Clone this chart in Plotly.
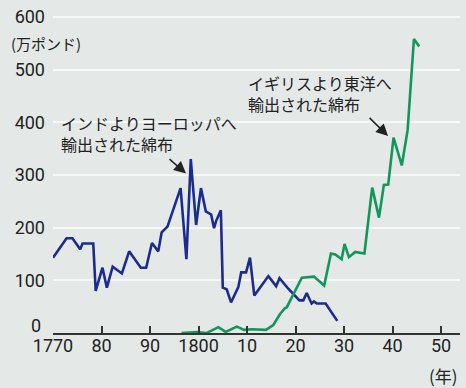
import plotly.graph_objects as go

# India -> Europe cotton cloth (10,000 pounds)
india_years = [1770.0, 1772.8, 1774.0, 1775.6, 1776.1, 1778.3, 1778.8, 1780.2, 1781.1, 1782.3,
               1784.2, 1785.7, 1788.1, 1789.2, 1790.4, 1791.7, 1792.4, 1793.6, 1796.3, 1797.5,
               1798.4, 1799.5, 1800.5, 1801.5, 1802.6, 1803.2, 1803.6, 1804.6, 1805.0, 1805.8,
               1806.7, 1808.2, 1808.8, 1809.8, 1810.6, 1811.5, 1813.0, 1814.4, 1816.0, 1816.7,
               1818.5, 1820.8, 1821.6, 1822.3, 1823.3, 1823.8, 1824.4, 1826.2, 1828.6]
india_values = [143, 180, 180, 159, 170, 170, 80, 124, 86, 126,
                113, 155, 124, 124, 171, 155, 191, 202, 275, 140,
                330, 205, 275, 231, 225, 199, 212, 233, 86, 83,
                58, 87, 115, 115, 143, 71, 90, 108, 89, 104,
                84, 62, 62, 76, 56, 60, 56, 56, 23]

# Britain -> Orient cotton cloth
britain_years = [1796.5, 1799.7, 1801.7, 1804.1, 1805.6, 1807.9, 1809.4, 1811.0, 1813.9, 1815.4,
                 1816.8, 1817.8, 1818.2, 1819.0, 1821.3, 1823.8, 1825.9, 1827.3, 1828.2, 1829.5,
                 1830.1, 1831.0, 1832.3, 1834.2, 1835.8, 1837.2, 1838.2, 1839.1, 1840.2, 1841.9,
                 1843.1, 1844.4, 1845.5]
britain_values = [0, 2, 0, 11, 2, 12, 6, 7, 6, 15,
                  36, 47, 49, 64, 105, 107, 90, 151, 149, 140,
                  169, 144, 154, 151, 276, 219, 281, 282, 371, 318,
                  385, 558, 544]

x_tick_vals = [1770, 1780, 1790, 1800, 1810, 1820, 1830, 1840, 1850]
x_tick_text = ["1770", "80", "90", "1800", "10", "20", "30", "40", "50"]
y_tick_vals = [0, 100, 200, 300, 400, 500, 600]
y_tick_text = ["", "100", "200", "300", "400", "500", "600"]

BG = "#e4e9e8"
TXT = "#222222"
NUM_FONT = "Roboto, sans-serif"
JP_FONT = "Noto Sans CJK JP, sans-serif"

fig = go.Figure()
fig.add_trace(go.Scatter(x=india_years, y=india_values, mode="lines",
                         line=dict(color="#1b2c8c", width=2.6), showlegend=False))
fig.add_trace(go.Scatter(x=britain_years, y=britain_values, mode="lines",
                         line=dict(color="#14965a", width=2.6), showlegend=False))

fig.update_layout(
    width=466, height=388,
    margin=dict(l=53, r=6, t=8, b=55),
    paper_bgcolor=BG, plot_bgcolor=BG,
    xaxis=dict(range=[1770, 1853.9], tickvals=x_tick_vals, ticktext=x_tick_text,
               ticks="inside", ticklen=7, tickwidth=1.5, tickcolor="#333333",
               showline=True, linecolor="#333333", linewidth=1.5,
               showgrid=False, zeroline=False, ticklabelstandoff=-4,
               tickfont=dict(family=NUM_FONT, size=18, color=TXT)),
    yaxis=dict(range=[0, 607.5], tickvals=y_tick_vals, ticktext=y_tick_text,
               showgrid=True, gridcolor="#f7f8f8", gridwidth=1.5,
               zeroline=False, showline=False, ticks="",
               ticklabelstandoff=7,
               tickfont=dict(family=NUM_FONT, size=18, color=TXT)),
    font=dict(family=JP_FONT, color=TXT),
)

# zero label sits above the axis line
fig.add_annotation(xref="paper", yref="paper", x=(43 - 53) / 407, y=(333 - 325) / 325,
                   xanchor="right", yanchor="middle", text="0", showarrow=False,
                   font=dict(family=NUM_FONT, size=18, color=TXT))

ann_font = dict(family=JP_FONT, size=16, color=TXT)
fig.add_annotation(xref="paper", yref="paper", x=-0.108, y=0.905, xanchor="left", yanchor="middle",
                   text="(万ポンド)", showarrow=False, font=dict(family=JP_FONT, size=15, color=TXT))
fig.add_annotation(xref="paper", yref="paper", x=1.0, y=-0.133, xanchor="right", yanchor="middle",
                   text="(年)", showarrow=False, font=dict(family=JP_FONT, size=17, color=TXT))
fig.add_annotation(xref="x", yref="y", x=1771.3, y=(333 - 130) / 0.535, xanchor="left", yanchor="middle",
                   text="インドよりヨーロッパへ<br>輸出された綿布", align="left", showarrow=False,
                   font=ann_font)
fig.add_annotation(xref="x", yref="y", x=1809.8, y=(333 - 90) / 0.535, xanchor="left", yanchor="middle",
                   text="イギリスより東洋へ<br>輸出された綿布", align="left", showarrow=False,
                   font=ann_font)
# arrows
fig.add_annotation(xref="x", yref="y", axref="x", ayref="y",
                   x=1770 + (186 - 53) / 4.85, y=(333 - 171) / 0.535,
                   ax=1770 + (168 - 53) / 4.85, ay=(333 - 155) / 0.535,
                   text="", showarrow=True, arrowhead=2, arrowsize=1.6, arrowwidth=1.5, arrowcolor=TXT)
fig.add_annotation(xref="x", yref="y", axref="x", ayref="y",
                   x=1770 + (388 - 53) / 4.85, y=(333 - 133) / 0.535,
                   ax=1770 + (368 - 53) / 4.85, ay=(333 - 113) / 0.535,
                   text="", showarrow=True, arrowhead=2, arrowsize=1.6, arrowwidth=1.5, arrowcolor=TXT)

fig.write_html("out.html", config={"displayModeBar": False},
               post_script="document.body.style.margin='0';")
